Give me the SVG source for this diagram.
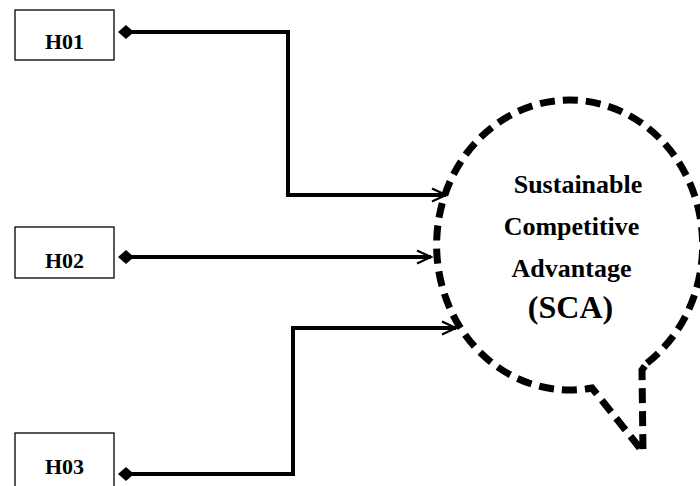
<svg xmlns="http://www.w3.org/2000/svg" width="700" height="486" viewBox="0 0 700 486">
<style>
.box{fill:#fff;stroke:#000;stroke-width:1.3}
.lbl{font-family:"Liberation Serif","Times New Roman",serif;font-weight:bold;fill:#000}
.conn{fill:none;stroke:#000;stroke-width:4;stroke-linejoin:miter;stroke-linecap:butt}
.callout{fill:none;stroke:#000;stroke-width:7;stroke-dasharray:15 8;stroke-linejoin:miter;stroke-miterlimit:10}
</style>
<defs>
<marker id="dia" markerUnits="userSpaceOnUse" markerWidth="20" markerHeight="20" refX="0" refY="0" viewBox="-10 -10 20 20" orient="auto">
<path d="M-8,0 L0,-7 L8,0 L0,7 Z" fill="#000"/>
</marker>
<marker id="arr" markerUnits="userSpaceOnUse" markerWidth="24" markerHeight="24" refX="0" refY="0" viewBox="-20 -12 24 24" orient="auto" overflow="visible">
<path d="M-14,-6.5 L0,0 L-14,6.5" fill="none" stroke="#000" stroke-width="2.2"/>
</marker>
</defs>
<g id="H01"><rect class="box" x="15" y="10" width="99" height="50"/><text class="lbl" x="64.5" y="49" font-size="22" text-anchor="middle">H01</text></g>
<g id="H02"><rect class="box" x="15" y="227" width="99" height="51"/><text class="lbl" x="64.5" y="268" font-size="22" text-anchor="middle">H02</text></g>
<g id="H03"><rect class="box" x="15" y="433" width="99" height="60"/><text class="lbl" x="64.5" y="474" font-size="22" text-anchor="middle">H03</text></g>
<g id="SCA">
<path class="callout" d="M647,363 A133,145 0 1 0 592,388 L643,452 L642,370 Z"/>
<text class="lbl" x="578" y="193" font-size="26" text-anchor="middle">Sustainable</text>
<text class="lbl" x="571.5" y="235" font-size="26" text-anchor="middle">Competitive</text>
<text class="lbl" x="571.5" y="277" font-size="26" text-anchor="middle">Advantage</text>
<text class="lbl" x="570.5" y="318" font-size="32" text-anchor="middle">(SCA)</text>
</g>
<g id="connectors">
<path class="conn" d="M126,32 L288,32 L288,195 L446,195" marker-start="url(#dia)" marker-end="url(#arr)"/>
<path class="conn" d="M126,257 L431,257" marker-start="url(#dia)" marker-end="url(#arr)"/>
<path class="conn" d="M126,474 L293,474 L293,328 L456,328" marker-start="url(#dia)" marker-end="url(#arr)"/>
</g>
</svg>
